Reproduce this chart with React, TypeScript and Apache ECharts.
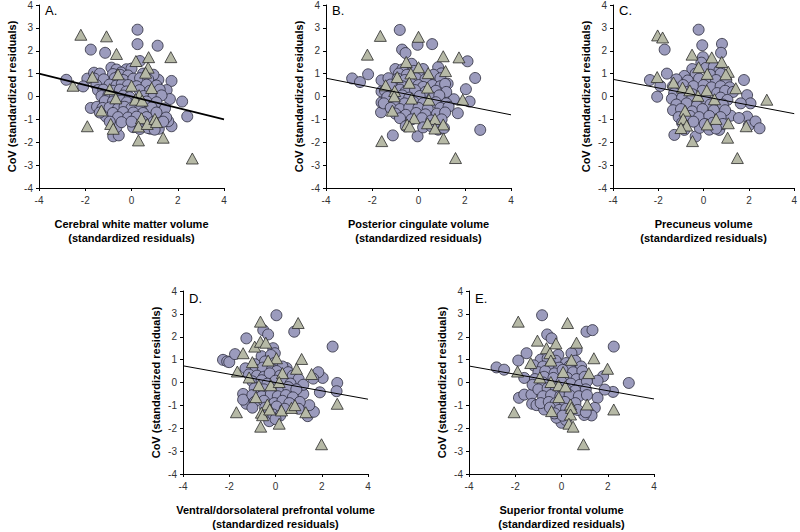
import React, { useEffect, useRef } from "react";
import * as echarts from "echarts";

const panelLetters = ["A.", "B.", "C.", "D.", "E."];
const xTitles = [
  "Cerebral white matter volume\n(standardized residuals)",
  "Posterior cingulate volume\n(standardized residuals)",
  "Precuneus volume\n(standardized residuals)",
  "Ventral/dorsolateral prefrontal volume\n(standardized residuals)",
  "Superior frontal volume\n(standardized residuals)",
];
const yTitle = "CoV (standardized residuals)";

const aCircles = [
  [0.26,2.92],[0.26,2.29],[1.13,2.22],[-1.76,2.05],[-1.14,1.91],[0.36,1.55],[-0.87,1.26],[-0.22,1.19],[-2.82,0.73],[-1.91,0.78],[-1.62,1.04],[-1.37,1.0],[-2.09,0.44],[1.73,0.68],[1.16,0.73],[1.52,0.28],[1.66,-0.11],[2.19,-0.22],[2.41,-0.87],[1.73,-1.3],[1.59,-1.08],[1.34,-0.69],[-1.76,-0.5],[-1.49,-0.45],[-1.11,-0.87],[-0.79,-1.74],[-0.55,-1.7],[-0.65,-1.34],[0.07,-1.34],[0.82,-1.41],[1.18,-1.41],[0.0,-0.9],
  [-0.65,1.18],[-0.45,1.05],[0.0,1.22],
  [-0.8,0.98],[-0.5,0.95],[-0.15,0.92],[0.5,1.0],[0.95,0.95],
  [-1.6,0.78],[-1.2,0.75],[-0.72,0.8],[-0.35,0.72],[0.08,0.78],[0.37,0.8],[0.72,0.75],
  [-1.52,0.5],[-0.95,0.52],[-0.65,0.48],[-0.42,0.55],[-0.15,0.5],[0.22,0.45],[0.65,0.52],[1.08,0.48],
  [-1.45,0.28],[-1.22,0.3],[-0.8,0.25],[-0.5,0.3],[-0.22,0.22],[0.35,0.28],[0.8,0.25],[1.22,0.3],
  [-1.3,0.02],[-1.0,0.05],[-0.72,-0.02],[-0.36,0.04],[-0.08,-0.03],[0.52,0.02],[0.95,0.0],[1.3,0.05],
  [-1.15,-0.2],[-0.8,-0.22],[-0.45,-0.18],[-0.2,-0.25],[0.22,-0.2],[0.65,-0.22],[1.08,-0.25],
  [-1.25,-0.5],[-0.95,-0.48],[-0.58,-0.52],[-0.3,-0.45],[0.0,-0.5],[0.36,-0.55],[0.87,-0.48],[1.45,-0.52],
  [-1.37,-0.7],[-0.8,-0.72],[-0.36,-0.68],[0.08,-0.7],[0.5,-0.72],[1.08,-0.7],
  [-0.58,-0.9],[-0.15,-0.92],[0.22,-0.88],[0.65,-0.9],[1.5,-0.92],
  [-0.94,-1.1],[-0.43,-1.12],[0.0,-1.1],[0.5,-1.1],[0.94,-1.12],[1.37,-1.1],
  [0.36,-1.42],[0.72,-1.38],[1.0,-1.45],
];
const aTriangles = [
  [-2.19,2.7],[-1.08,2.63],[-0.65,1.86],[1.7,1.72],[0.74,1.72],[0.19,1.55],[0.72,1.26],[0.61,1.04],[-1.69,0.86],[-0.58,0.97],[-2.53,0.47],[0.0,0.47],[0.87,0.37],[-0.94,0.32],[0.33,0.06],[-0.68,-0.08],[0.17,-0.14],[0.46,-0.18],[-1.3,-0.61],[-1.91,-1.3],[-0.9,-1.2],[-0.79,-1.41],[0.43,-0.95],[0.3,-1.31],[0.68,-1.2],[1.01,-0.98],[1.08,-1.12],[0.3,-1.92],[1.37,-1.8],[2.63,-2.71],
];
const aLine = [[-4, 1.0], [4, -1.0]];

const bCircles = [
  [-0.81,2.91],[-0.04,2.26],[0.59,2.29],[-0.71,2.05],[-0.56,1.9],[-2.18,0.97],[-2.87,0.79],[-2.53,0.63],[2.12,1.54],[2.45,0.81],[2.05,0.32],[2.21,-0.22],[2.67,-1.46],[1.7,-0.73],[-1.11,-1.7],[-0.04,-1.74],[-1.62,-0.69],[-1.6,-0.26],[-1.6,0.22],[-1.6,0.71],[-1.0,1.2],[-0.3,1.43],[0.85,1.28],[0.99,1.01],[1.26,0.56],[1.11,0.27],[1.39,-0.13],[1.53,-0.12],
  [-0.7,1.18],[-0.2,1.12],[0.2,1.2],
  [-0.85,1.0],[-0.5,0.95],[0.0,0.98],[0.65,0.95],
  [-1.3,0.8],[-0.9,0.78],[-0.6,0.72],[-0.1,0.8],[0.3,0.75],[0.95,0.8],
  [-1.2,0.52],[-0.7,0.45],[-0.3,0.55],[0.0,0.5],[0.2,0.42],[0.6,0.5],[0.95,0.45],[1.15,0.55],
  [-1.45,0.25],[-0.8,0.3],[-0.55,0.22],[-0.15,0.28],[0.3,0.2],[0.75,0.25],[1.2,0.2],
  [-1.35,-0.02],[-0.7,0.05],[-0.4,-0.05],[0.05,0.02],[0.6,-0.05],[0.9,0.05],
  [-1.5,-0.3],[-1.0,-0.25],[-0.6,-0.3],[-0.2,-0.25],[0.2,-0.3],[0.75,-0.25],[1.2,-0.3],
  [-1.2,-0.5],[-0.8,-0.55],[-0.4,-0.48],[0.0,-0.5],[0.4,-0.55],[0.95,-0.5],[1.3,-0.45],
  [-1.0,-0.75],[-0.55,-0.8],[-0.1,-0.72],[0.3,-0.78],[0.8,-0.75],[1.15,-0.7],
  [-0.8,-0.95],[-0.3,-1.0],[0.15,-0.95],[0.55,-1.05],[1.0,-1.0],
  [-0.55,-1.3],[0.2,-1.35],[0.55,-1.3],[0.85,-1.45],[1.1,-1.38],
];
const bTriangles = [
  [-1.65,2.65],[0.0,2.61],[-2.21,1.83],[1.07,1.76],[1.75,1.71],[-0.53,1.51],[0.0,1.28],[0.42,1.02],[1.17,1.11],[-0.33,1.01],[-0.92,0.85],[-0.4,0.6],[-1.42,0.49],[0.39,0.39],[-1.03,0.24],[-1.05,0.01],[-0.3,-0.09],[0.45,-0.14],[1.91,-0.14],[-1.13,-0.62],[-0.19,-0.95],[0.71,-0.98],[0.39,-1.17],[1.07,-1.22],[-0.49,-1.22],[-0.38,-1.31],[0.71,-1.4],[1.08,-1.83],[-1.59,-1.95],[1.6,-2.69],
];
const bLine = [[-4, 0.8], [4, -0.8]];

const cCircles = [
  [-0.22,2.92],[-0.06,2.24],[0.81,2.3],[-1.72,2.05],[0.77,1.91],[-2.37,0.72],[-1.62,1.0],[-1.91,0.46],[-2.05,-0.01],[1.78,0.72],[1.92,0.06],[2.07,-0.3],[1.64,-0.3],[1.92,-0.88],[1.99,-1.27],[2.29,-1.09],[2.47,-1.39],[-1.29,-1.68],[-0.85,-1.46],[-0.35,-1.75],[0.69,-1.46],[-0.17,-1.37],[1.2,-0.84],[1.56,-0.94],[-0.03,1.72],[-0.1,1.48],
  [-0.5,1.2],[0.1,1.25],[0.45,1.3],[0.7,1.15],
  [-0.85,0.9],[-0.35,1.0],[0.3,0.95],[0.75,1.0],
  [-1.2,0.75],[-0.7,0.7],[-0.2,0.78],[0.15,0.65],[0.55,0.72],[1.0,0.7],
  [-1.35,0.45],[-0.9,0.5],[-0.45,0.45],[0.0,0.5],[0.35,0.4],[0.75,0.45],[1.15,0.4],
  [-1.3,0.15],[-0.8,0.2],[-0.5,0.1],[-0.05,0.25],[0.6,0.15],[0.95,0.25],[1.3,0.2],
  [-1.4,-0.1],[-0.95,-0.05],[-0.55,-0.15],[0.1,-0.1],[0.75,-0.05],[1.05,-0.15],
  [-1.2,-0.35],[-0.75,-0.3],[-0.3,-0.4],[0.3,-0.35],[0.85,-0.35],
  [-1.35,-0.6],[-1.0,-0.55],[-0.5,-0.65],[-0.05,-0.55],[0.45,-0.6],[0.95,-0.6],
  [-1.1,-0.9],[-0.6,-0.85],[-0.2,-0.9],[0.25,-0.85],[0.75,-0.9],
  [-0.95,-1.15],[-0.45,-1.1],[0.05,-1.2],[0.4,-1.15],[0.85,-1.2],
  [0.25,-1.45],[0.55,-1.4],
];
const cTriangles = [
  [-2.03,2.67],[-1.81,2.58],[-0.51,1.83],[0.36,1.71],[0.8,1.51],[-0.22,1.28],[1.09,1.08],[0.98,0.97],[0.16,0.99],[-2.05,0.85],[-1.33,0.61],[-0.93,0.39],[-0.61,0.27],[1.42,0.36],[-0.25,0.03],[0.14,0.27],[0.48,-0.12],[2.79,-0.14],[-0.82,-0.62],[-0.9,-0.98],[-0.75,-1.27],[-1.0,-1.38],[0.16,-1.22],[0.55,-0.98],[1.09,-1.17],[1.88,-1.3],[-0.49,-1.95],[1.06,-1.8],[1.49,-2.69],
];
const cLine = [[-4, 0.75], [4, -0.75]];

const dCircles = [
  [0.04,2.94],[0.81,2.22],[-1.26,1.93],[-0.53,2.29],[-0.32,2.1],[2.47,1.57],[-2.27,0.99],[-2.09,0.92],[-2.0,0.89],[-1.75,1.24],[-0.1,1.5],[-0.03,1.28],[2.67,-0.02],[2.64,-0.38],[1.92,-0.43],[2.04,0.2],[1.85,0.45],[1.63,0.17],[-1.4,-0.5],[-1.26,-0.93],[-1.4,-0.75],[-0.27,-1.69],[1.39,-1.47],[1.66,-1.28],[1.46,-0.99],[1.2,-0.5],[0.48,0.63],
  [-0.6,1.15],[-0.2,1.2],
  [-0.9,0.8],[-0.45,0.92],[-0.05,0.85],[0.3,0.7],
  [-1.3,0.62],[-0.85,0.55],[-0.55,0.65],[-0.15,0.58],[0.05,0.5],[0.55,0.45],
  [-1.15,0.35],[-0.8,0.3],[-0.5,0.25],[-0.25,0.4],[0.2,0.3],[0.75,0.3],[1.0,0.15],
  [-1.0,0.05],[-0.6,0.1],[-0.35,-0.05],[0.0,0.08],[0.35,0.0],[0.65,-0.05],[1.2,-0.1],
  [-0.9,-0.25],[-0.5,-0.3],[-0.1,-0.25],[0.25,-0.35],[0.55,-0.2],[0.9,-0.3],
  [-1.0,-0.55],[-0.6,-0.6],[-0.2,-0.5],[0.1,-0.6],[0.45,-0.55],[0.75,-0.65],
  [-0.9,-0.85],[-0.5,-0.8],[-0.05,-0.9],[0.3,-0.8],[0.6,-0.9],[1.05,-0.85],
  [-1.0,-1.1],[-0.45,-1.1],[0.05,-1.05],[0.4,-1.15],[1.0,-1.15],
  [-0.1,-1.4],[0.2,-1.45],[0.0,-1.6],
];
const dTriangles = [
  [-0.65,2.66],[0.98,2.6],[-0.9,1.57],[-0.65,1.78],[-0.42,1.74],[-1.4,1.28],[0.04,1.06],[1.13,1.03],[-1.0,0.89],[-0.32,0.96],[-1.65,0.48],[0.3,0.41],[0.91,0.6],[1.56,0.37],[-1.14,0.22],[-0.72,-0.12],[-0.2,-0.12],[0.16,0.02],[-0.85,-0.64],[-0.35,-0.96],[2.67,-0.93],[-1.69,-1.3],[-0.61,-1.32],[-0.56,-1.43],[-0.25,-1.18],[0.26,-1.22],[0.69,-1.11],[0.84,-0.99],[1.31,-1.3],[-0.64,-1.93],[0.16,-1.8],[1.99,-2.7],
];
const dLine = [[-4, 0.73], [4, -0.73]];

const eCircles = [
  [-0.84,2.94],[1.08,2.22],[1.34,2.29],[-0.62,2.1],[-0.43,1.93],[2.26,1.57],[-2.81,0.66],[-2.48,0.56],[-1.87,0.96],[-1.51,1.28],[-1.61,0.2],[2.91,-0.02],[2.23,-0.41],[1.87,-0.31],[1.8,0.27],[1.56,0.08],[1.56,-0.67],[1.44,-1.11],[1.3,-1.44],[0.98,-1.42],[-1.84,-0.67],[-1.61,-0.53],[-1.3,-0.53],[-1.27,-0.93],[-1.08,-0.99],[-0.75,-1.18],[0.0,-1.76],[0.19,-1.64],[-0.22,-1.54],[0.65,1.43],[0.43,1.28],[-0.14,1.21],
  [-0.9,1.0],[-0.6,1.05],[-0.25,0.95],[0.2,0.85],[0.6,0.95],
  [-1.2,0.75],[-0.8,0.7],[-0.45,0.75],[-0.1,0.65],[0.35,0.72],[0.85,0.7],
  [-1.0,0.45],[-0.7,0.5],[-0.3,0.4],[0.05,0.55],[0.5,0.45],[0.9,0.5],
  [-1.15,0.15],[-0.75,0.25],[-0.35,0.2],[0.25,0.2],[0.65,0.15],[1.0,0.25],
  [-1.25,-0.1],[-0.8,0.0],[0.0,0.02],[0.4,-0.05],[0.8,-0.1],[1.1,0.05],
  [-1.0,-0.3],[-0.6,-0.25],[-0.25,-0.35],[0.2,-0.3],[0.6,-0.35],[1.05,-0.3],
  [-0.8,-0.6],[-0.45,-0.55],[-0.05,-0.6],[0.35,-0.55],[0.75,-0.6],[1.1,-0.55],
  [-0.9,-0.9],[-0.55,-0.85],[-0.25,-0.9],[0.15,-0.85],[0.6,-0.9],
  [-0.5,-1.1],[-0.1,-1.2],[0.2,-1.15],[0.7,-1.2],[1.05,-1.3],
  [-0.3,-1.35],[0.05,-1.45],
];
const eTriangles = [
  [-1.87,2.66],[0.26,2.6],[-1.04,1.83],[-0.24,1.71],[0.65,1.74],[-0.65,1.5],[-0.5,1.28],[-0.46,0.96],[0.43,0.99],[1.4,1.06],[-1.33,0.85],[-1.9,0.48],[0.07,0.46],[1.18,0.41],[1.99,0.6],[-0.94,0.22],[-0.46,0.02],[-0.12,-0.12],[0.17,-0.17],[-0.12,-0.64],[1.11,-0.96],[-2.05,-1.3],[-0.43,-1.25],[0.39,-0.96],[0.43,-1.11],[0.39,-1.4],[2.26,-1.18],[0.32,-1.8],[0.5,-1.93],[0.95,-2.7],
];
const eLine = [[-4, 0.72], [4, -0.72]];

const xTicks = { min: -4, max: 4, interval: 2 };
const yTicks = { min: -4, max: 4, interval: 1 };

const panels = [
  { circles: aCircles, triangles: aTriangles, line: aLine, lineWidth: 1.6 },
  { circles: bCircles, triangles: bTriangles, line: bLine, lineWidth: 1 },
  { circles: cCircles, triangles: cTriangles, line: cLine, lineWidth: 1 },
  { circles: dCircles, triangles: dTriangles, line: dLine, lineWidth: 1 },
  { circles: eCircles, triangles: eTriangles, line: eLine, lineWidth: 1 },
];

const gridBoxes = [
  { left: 39, top: 3, width: 185, height: 185 },
  { left: 326, top: 3, width: 185, height: 185 },
  { left: 613, top: 3, width: 185, height: 185 },
  { left: 183, top: 291, width: 185, height: 184 },
  { left: 469, top: 291, width: 185, height: 184 },
];

const FONT = 'Arial, "Liberation Sans", sans-serif';

export default function App() {
  const ref = useRef<HTMLDivElement>(null);
  useEffect(() => {
    if (!ref.current) return;
    const chart = echarts.init(ref.current, undefined, { renderer: "svg" });
    const grid = gridBoxes.map((g) => ({ ...g, containLabel: false }));
    const xAxis = gridBoxes.map((_, i) => ({
      type: "value",
      gridIndex: i,
      ...xTicks,
      axisLine: { show: true, onZero: false, lineStyle: { color: "#000", width: 1 } },
      axisTick: { show: true, inside: false, length: 3, lineStyle: { color: "#000" } },
      splitLine: { show: false },
      axisLabel: { fontSize: 10, color: "#333", fontFamily: FONT, margin: 7 },
      name: xTitles[i],
      nameLocation: "middle",
      nameGap: 29,
      nameTextStyle: { fontSize: 11, fontWeight: "bold", color: "#000", fontFamily: FONT, lineHeight: 14, verticalAlign: "top" },
    }));
    const yAxis = gridBoxes.map((_, i) => ({
      type: "value",
      gridIndex: i,
      ...yTicks,
      axisLine: { show: true, onZero: false, lineStyle: { color: "#000", width: 1 } },
      axisTick: { show: true, inside: false, length: 3, lineStyle: { color: "#000" } },
      splitLine: { show: false },
      axisLabel: { fontSize: 10, color: "#333", fontFamily: FONT, margin: 6 },
      name: yTitle,
      nameLocation: "middle",
      nameGap: 22,
      nameTextStyle: { fontSize: 11, fontWeight: "bold", color: "#000", fontFamily: FONT },
    }));
    const series: any[] = [];
    panels.forEach((p, i) => {
      series.push({
        type: "scatter",
        xAxisIndex: i,
        yAxisIndex: i,
        data: p.circles,
        symbol: "circle",
        symbolSize: 11,
        itemStyle: { color: "#9b9bbd", borderColor: "#2a2a3a", borderWidth: 0.8, opacity: 1 },
        z: 2,
      });
      series.push({
        type: "scatter",
        xAxisIndex: i,
        yAxisIndex: i,
        data: p.triangles,
        symbol: "triangle",
        symbolSize: [12, 11],
        itemStyle: { color: "#b6b9a6", borderColor: "#2a2a2a", borderWidth: 0.8, opacity: 1 },
        z: 3,
      });
      series.push({
        type: "line",
        xAxisIndex: i,
        yAxisIndex: i,
        data: p.line,
        symbol: "none",
        lineStyle: { color: "#000", width: p.lineWidth },
        z: 4,
      });
    });
    const graphic = gridBoxes.map((g, i) => ({
      type: "text",
      left: g.left + 6,
      top: g.top + 1,
      style: { text: panelLetters[i], fontSize: 13, fill: "#000", fontFamily: FONT },
    }));
    chart.setOption({
      animation: false,
      backgroundColor: "#fff",
      grid,
      xAxis,
      yAxis,
      series,
      graphic,
    });
    return () => chart.dispose();
  }, []);
  return <div ref={ref} style={{ width: 800, height: 532, position: "absolute", left: 0, top: 0 }} />;
}
